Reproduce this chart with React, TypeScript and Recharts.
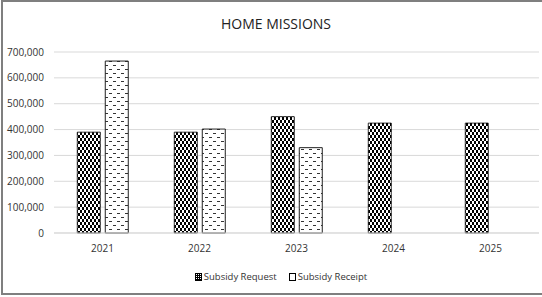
import React from "react";
import { BarChart, Bar, XAxis, YAxis, CartesianGrid } from "recharts";

const years = ["2021", "2022", "2023", "2024", "2025"];
const subsidyRequest = [390000, 390000, 450000, 425000, 425000];
const subsidyReceipt: (number | null)[] = [665000, 402000, 330000, null, null];
const yTicks = [0, 100000, 200000, 300000, 400000, 500000, 600000, 700000];
const seriesNames = ["Subsidy Request", "Subsidy Receipt"];

const data = years.map((y, i) => ({
  year: y,
  request: subsidyRequest[i],
  receipt: subsidyReceipt[i],
}));

const FONT = "'Open Sans', 'Noto Sans', sans-serif";

const fmt = (v: number) => v.toLocaleString("en-US");

function Patterns() {
  return (
    <svg width={0} height={0} style={{ position: "absolute" }}>
      <defs>
        <pattern id="checker" patternUnits="userSpaceOnUse" width={4} height={6}>
          <rect x={0} y={0} width={4} height={6} fill="#fff" />
          <rect x={0} y={0} width={2} height={3} fill="#000" />
          <rect x={2} y={3} width={2} height={3} fill="#000" />
        </pattern>
        <pattern id="dashes" patternUnits="userSpaceOnUse" width={8} height={8}>
          <rect x={0} y={0} width={8} height={8} fill="#fff" />
          <rect x={1} y={1} width={3} height={1} fill="#333" />
          <rect x={5} y={5} width={3} height={1} fill="#333" />
        </pattern>
        <pattern id="checkerSmall" patternUnits="userSpaceOnUse" width={2} height={2}>
          <rect x={0} y={0} width={2} height={2} fill="#000" />
          <rect x={1} y={1} width={1} height={1} fill="#fff" />
        </pattern>
      </defs>
    </svg>
  );
}

export default function App() {
  return (
    <div
      style={{
        position: "absolute",
        left: 0,
        top: 0,
        width: 542,
        height: 297,
        overflow: "hidden",
        background: "#fff",
        fontFamily: FONT,
      }}
    >
      <Patterns />
      <div
        style={{
          position: "absolute",
          left: 1,
          top: 0,
          width: 560,
          height: 295,
          boxSizing: "border-box",
          border: "2px solid #7f7f7f",
        }}
      />
      <div
        style={{
          position: "absolute",
          left: 0,
          width: 552,
          top: 14,
          textAlign: "center",
          fontSize: 14,
          color: "#222",
        }}
      >
        HOME MISSIONS
      </div>
      <div style={{ position: "absolute", left: 0, top: 0 }}>
        <BarChart
          width={542}
          height={297}
          data={data}
          margin={{ top: 52, right: 3, bottom: 0, left: 0 }}
          barCategoryGap="24%"
          barGap={5}
        >
          <CartesianGrid vertical={false} stroke="#d9d9d9" />
          <XAxis
            dataKey="year"
            height={64}
            tickLine={false}
            axisLine={{ stroke: "#d9d9d9" }}
            tickMargin={6}
            tick={{ fontSize: 10, fill: "#333", fontFamily: FONT }}
          />
          <YAxis
            width={54}
            domain={[0, 700000]}
            ticks={yTicks}
            tickFormatter={fmt}
            tickLine={false}
            axisLine={false}
            tickMargin={4}
            tick={{ fontSize: 10, fill: "#333", fontFamily: FONT }}
          />
          <Bar
            dataKey="request"
            name={seriesNames[0]}
            fill="url(#checker)"
            stroke="#000"
            strokeWidth={0.8}
            isAnimationActive={false}
          />
          <Bar
            dataKey="receipt"
            name={seriesNames[1]}
            fill="url(#dashes)"
            stroke="#222"
            strokeWidth={1}
            isAnimationActive={false}
          />
        </BarChart>
      </div>
      <div
        style={{
          position: "absolute",
          left: 0,
          width: 562,
          top: 270,
          display: "flex",
          justifyContent: "center",
          fontSize: 9.5,
          color: "#333",
          gap: 12,
        }}
      >
        {seriesNames.map((n, i) => (
          <div key={n} style={{ display: "flex", alignItems: "center" }}>
            <svg width={7} height={8} style={{ marginRight: 2 }}>
              <rect
                x={0.5}
                y={0.5}
                width={6}
                height={7}
                fill={i === 0 ? "url(#checkerSmall)" : "#fff"}
                stroke="#000"
                strokeWidth={1}
              />
            </svg>
            <span>{n}</span>
          </div>
        ))}
      </div>
    </div>
  );
}
